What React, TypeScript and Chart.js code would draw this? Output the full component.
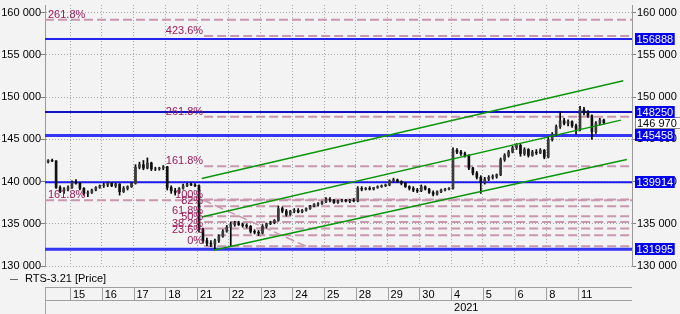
import { useEffect, useRef } from 'react';
import { Chart, registerables } from 'chart.js';

Chart.register(...registerables);

// ---------------- data ----------------
const dayLabels = ['15', '16', '17', '18', '21', '22', '23', '24', '25', '28', '29', '30', '4', '5', '6', '8', '11'];
const dayStartBar = [6, 14, 22, 30, 38, 46, 54, 62, 70, 78, 86, 94, 102, 110, 118, 126, 134];
const yearLabel = '2021';
const yearDayIndex = 12;

const opens = [
  142300, 142500, 142450, 139300, 138900, 139100,
  139300, 139900, 139800, 139200, 138600, 138700, 139000, 139300,
  139500, 139600, 139800, 139500, 139700, 138800, 139200, 139400,
  139800, 141700, 142000, 141600, 142200, 141500, 141500, 141600,
  141750, 139300, 138900, 138700, 139200, 139500, 139700, 139600,
  139500, 134300, 133000, 132700, 132600, 133000, 133500, 134100,
  134600, 134900, 135100, 134900, 134800, 134700, 134100, 134000,
  133900, 134700, 135000, 135100, 135400, 136800, 136500, 136100,
  136500, 136600, 136400, 136600, 136800, 137100, 137300, 137400,
  137600, 137900, 137800, 137500, 137700, 137800, 137700, 137800,
  137700, 139200, 139100, 139200, 139100, 139300, 139400, 139500,
  139600, 140100, 140200, 140000, 139800, 139400, 139200, 139000,
  138900, 139400, 139100, 138700, 138500, 138800, 139000, 139100,
  139200, 143700, 143500, 143300, 143100, 141600, 141000, 140500,
  139900, 140300, 140500, 140600, 140800, 142600, 143100, 143500,
  144000, 144300, 143300, 143800, 143100, 143500, 143400, 143700,
  142900, 145000, 145600, 146500, 147200, 146900, 147100, 146600,
  146200, 148500, 148200, 147800, 145900, 146900, 147300,
];
const highs = [
  142600, 142650, 142500, 139500, 139300, 139500,
  140100, 140250, 139900, 139300, 138900, 139100, 139400, 139600,
  139800, 139950, 139900, 139800, 139750, 139400, 139500, 139900,
  142000, 142300, 142500, 142800, 142300, 141700, 141700, 141900,
  141800, 139500, 139200, 139300, 139700, 139800, 139850, 139750,
  139600, 134500, 133300, 133000, 133200, 133700, 134300, 134800,
  135200, 135300, 135300, 135100, 135000, 134800, 134300, 134200,
  134900, 135100, 135300, 135500, 137100, 137000, 136700, 136600,
  136800, 136800, 136700, 136900, 137200, 137400, 137500, 137700,
  138100, 138100, 137900, 137800, 137900, 137900, 137900, 138000,
  139400, 139400, 139300, 139400, 139300, 139500, 139600, 139700,
  140200, 140400, 140300, 140100, 139900, 139500, 139400, 139200,
  139600, 139500, 139200, 138900, 138900, 139100, 139200, 139300,
  144000, 143900, 143700, 143500, 143200, 141700, 141200, 140700,
  140500, 140700, 140800, 140900, 142800, 143300, 143700, 144200,
  144500, 144400, 144000, 143900, 143700, 143800, 143900, 143800,
  145300, 145800, 146700, 148250, 147500, 147300, 147200, 146800,
  148900, 148800, 148400, 147900, 147100, 147500, 147400,
];
const lows = [
  142200, 142350, 139200, 138700, 138600, 138900,
  139200, 139700, 139000, 138400, 138200, 138600, 138900, 139200,
  139300, 139400, 139400, 139300, 138400, 138700, 139000, 139300,
  139700, 141500, 141400, 141500, 141300, 141300, 141350, 141400,
  139000, 138600, 138400, 138600, 139100, 139400, 139500, 139400,
  134000, 132700, 132400, 132300, 132000, 132800, 133400, 134000,
  132300, 134700, 134800, 134600, 134500, 133900, 133800, 133600,
  133800, 134500, 134900, 135000, 135300, 136300, 135900, 136000,
  136300, 136300, 136300, 136500, 136700, 137000, 137100, 137300,
  137500, 137600, 137400, 137400, 137600, 137600, 137500, 137600,
  137600, 138900, 139000, 139000, 139000, 139200, 139300, 139400,
  139500, 139900, 139900, 139600, 139300, 139000, 138800, 138700,
  138800, 139000, 138600, 138300, 138400, 138700, 138900, 139000,
  139100, 143300, 143100, 142900, 141400, 140800, 140300, 138600,
  139700, 140100, 140300, 140400, 140700, 142400, 142900, 143400,
  143800, 143000, 143100, 142900, 143000, 143200, 143300, 142700,
  142800, 144800, 145400, 146300, 146700, 146600, 146400, 145600,
  146000, 147900, 147600, 145000, 145700, 146700, 146800,
];
const closes = [
  142500, 142450, 139300, 138900, 139100, 139300,
  139900, 139800, 139200, 138600, 138700, 139000, 139300, 139500,
  139600, 139800, 139500, 139700, 138800, 139200, 139400, 139800,
  141700, 142000, 141600, 142200, 141500, 141500, 141600, 141750,
  139300, 138900, 138700, 139200, 139500, 139700, 139600, 139500,
  134300, 133000, 132700, 132600, 133000, 133500, 134100, 134600,
  134900, 135100, 134900, 134800, 134700, 134100, 134000, 133900,
  134700, 135000, 135100, 135400, 136800, 136500, 136100, 136500,
  136600, 136400, 136600, 136800, 137100, 137300, 137400, 137600,
  137900, 137800, 137500, 137700, 137800, 137700, 137800, 137700,
  139200, 139100, 139200, 139100, 139300, 139400, 139500, 139600,
  140100, 140200, 140000, 139800, 139400, 139200, 139000, 138900,
  139400, 139100, 138700, 138500, 138800, 139000, 139100, 139200,
  143700, 143500, 143300, 143100, 141600, 141000, 140500, 139900,
  140300, 140500, 140600, 140800, 142600, 143100, 143500, 144000,
  144300, 143300, 143800, 143100, 143500, 143400, 143700, 142900,
  145000, 145600, 146500, 147200, 146900, 147100, 146600, 146200,
  148500, 148200, 147800, 145900, 146900, 147300, 146970,
];
const lastPrice = 146970;
const lastPriceLabel = '146 970';
const seriesName = 'RTS-3.21 [Price]';

const xMin = -0.8;
const xMax = 147.1;
const yMin = 130000;
const yMax = 160913;
const yTicks = [130000, 135000, 140000, 145000, 150000, 155000, 160000];
const yTickLabels = ['130 000', '135 000', '140 000', '145 000', '150 000', '155 000', '160 000'];

const levelValues = [156888, 148250, 145458, 139914, 131995];
const levelLabels = ['156888', '148250', '145458', '139914', '131995'];

const fibALevels = [159170, 137790];
const fibALabels = ['261.8%', '161.8%'];
const fibBStart = 39.3;
const fibBLevels = [157237, 147667, 141822, 137873, 137078, 135893, 135217, 134434, 133640, 132335];
const fibBLabels = ['423.6%', '261.8%', '161.8%', '100%', '82%', '61.8%', '50%', '38.2%', '23.6%', '0%'];
const fibTrendX = [39.0, 65.0];
const fibTrendY = [137820, 132330];

const channelUpperX = [38.7, 144.9];
const channelUpperY = [140363, 151937];
const channelMidX = [38.7, 144.3];
const channelMidY = [135810, 147277];
const channelLowX = [41.6, 145.8];
const channelLowY = [131861, 142616];

// ---------------- styles ----------------
const FONT = "'Liberation Sans', Arial, sans-serif";
const BG = '#f3f3f3';
const GRID = '#a6a6a6';
const AXIS = '#9a9a9a';
const PINK = '#c898ae';
const FIB_TEXT = '#9b1b5a';
const BLUE = '#1c1cf4';
const GREEN = '#0a960a';
const levelWidths = [2, 2, 3, 2, 3];
const levelColors = ['#2424f0', '#1010c8', '#3535f5', '#1c1cf0', '#3535f5'];

const seg = (xs: number[], ys: number[]) => xs.map((x, i) => ({ x, y: ys[i] }));

const bgPlugin = {
  id: 'bgFill',
  beforeDraw(chart: any) {
    const { ctx, width, height } = chart;
    ctx.save();
    ctx.fillStyle = BG;
    ctx.fillRect(0, 0, width, height);
    ctx.restore();
  },
};

const overlayPlugin = {
  id: 'overlay',
  afterDatasetsDraw(chart: any) {
    const { ctx, scales, chartArea } = chart;
    const xs = scales.x;
    const ys = scales.y;
    ctx.save();
    ctx.font = `11px ${FONT}`;
    ctx.fillStyle = FIB_TEXT;
    ctx.textBaseline = 'alphabetic';
    ctx.textAlign = 'left';
    fibALevels.forEach((v, i) => {
      ctx.fillText(fibALabels[i], chartArea.left + 3, ys.getPixelForValue(v) - 2);
    });
    ctx.textAlign = 'right';
    const xr = xs.getPixelForValue(fibBStart) - 1;
    fibBLevels.forEach((v, i) => {
      ctx.fillText(fibBLabels[i], xr, ys.getPixelForValue(v) - 2);
    });
    ctx.restore();
  },
  afterDraw(chart: any) {
    const { ctx, scales, chartArea } = chart;
    const xs = scales.x;
    const ys = scales.y;
    ctx.save();
    ctx.font = `11px ${FONT}`;
    ctx.textBaseline = 'middle';
    ctx.textAlign = 'left';
    const bx = chartArea.right + 3;
    // current price box
    {
      const y = Math.round(ys.getPixelForValue(lastPrice));
      ctx.fillStyle = '#ffffff';
      ctx.fillRect(bx, y - 6, 50, 12);
      ctx.strokeStyle = '#8a8a8a';
      ctx.lineWidth = 1;
      ctx.strokeRect(bx + 0.5, y - 5.5, 50, 11);
      ctx.fillStyle = '#000';
      ctx.fillText(lastPriceLabel, bx + 2, y + 0.5);
    }
    levelValues.forEach((v, i) => {
      const y = Math.round(ys.getPixelForValue(v));
      const w = ctx.measureText(levelLabels[i]).width + 3;
      ctx.fillStyle = '#0000f2';
      ctx.fillRect(bx, y - 6, w, 12);
      ctx.fillStyle = '#ffffff';
      ctx.fillText(levelLabels[i], bx + 1.5, y + 0.5);
    });

    // legend row
    const legendY = chartArea.bottom + 13;
    ctx.strokeStyle = '#6a6a6a';
    ctx.lineWidth = 1;
    ctx.beginPath();
    ctx.moveTo(10, legendY + 0.5);
    ctx.lineTo(18, legendY + 0.5);
    ctx.stroke();
    ctx.fillStyle = '#000';
    ctx.fillText(seriesName, 25, legendY);

    // date rows
    const r1 = chartArea.bottom + 21.5;
    const r2 = chartArea.bottom + 34.5;
    ctx.strokeStyle = '#a0a0a0';
    ctx.beginPath();
    ctx.moveTo(chartArea.left, r1);
    ctx.lineTo(chartArea.right, r1);
    ctx.moveTo(chartArea.left, r2);
    ctx.lineTo(chartArea.right, r2);
    ctx.moveTo(chartArea.left + 0.5, r1);
    ctx.lineTo(chartArea.left + 0.5, chart.height);
    dayStartBar.forEach((b) => {
      const x = Math.round(xs.getPixelForValue(b - 0.5)) + 0.5;
      ctx.moveTo(x, r1);
      ctx.lineTo(x, r2);
    });
    ctx.stroke();
    ctx.restore();
  },
};

export default function App() {
  const ref = useRef<HTMLCanvasElement | null>(null);

  useEffect(() => {
    if (!ref.current) return;
    const n = closes.length;
    const idx = Array.from({ length: n }, (_, i) => i);
    const tickFont = { family: FONT, size: 11 };

    const lineDs = (data: any[], color: string, width: number, order: number, dash: number[] = []) => ({
      type: 'line' as const,
      data,
      borderColor: color,
      borderWidth: width,
      borderDash: dash,
      pointRadius: 0,
      fill: false,
      tension: 0,
      order,
    });

    const datasets: any[] = [
      {
        type: 'bar',
        label: seriesName,
        data: idx.map((i) => ({ x: i, y: [Math.min(opens[i], closes[i]), Math.max(opens[i], closes[i])] })),
        backgroundColor: idx.map((i) => (closes[i] >= opens[i] ? '#3a3a3a' : '#111111')),
        borderWidth: 0,
        barThickness: 2,
        grouped: false,
        order: 1,
      },
      {
        type: 'bar',
        label: 'wick',
        data: idx.map((i) => ({ x: i, y: [lows[i], highs[i]] })),
        backgroundColor: '#000000',
        borderWidth: 0,
        barThickness: 1,
        grouped: false,
        order: 2,
      },
      lineDs(seg(channelUpperX, channelUpperY), GREEN, 1.5, 0),
      lineDs(seg(channelMidX, channelMidY), GREEN, 1.5, 0),
      lineDs(seg(channelLowX, channelLowY), GREEN, 1.5, 0),
      ...levelValues.map((v, i) => lineDs(seg([xMin, xMax], [v, v]), levelColors[i] || BLUE, levelWidths[i], 3)),
      ...fibALevels.map((v) => lineDs(seg([xMin, xMax], [v, v]), PINK, 2, 4, [9, 4])),
      ...fibBLevels.map((v) => lineDs(seg([fibBStart, xMax], [v, v]), PINK, 2, 4, [9, 4])),
      lineDs(seg(fibTrendX, fibTrendY), PINK, 1.5, 4, [9, 4]),
    ];

    const chart = new Chart(ref.current, {
      type: 'bar',
      data: { datasets },
      options: {
        animation: false,
        responsive: false,
        maintainAspectRatio: false,
        layout: { padding: { top: 5, left: 0, right: 0, bottom: 0 } },
        plugins: { legend: { display: false }, tooltip: { enabled: false } },
        scales: {
          x: {
            type: 'linear',
            min: xMin,
            max: xMax,
            offset: false,
            afterBuildTicks: (s: any) => {
              s.ticks = dayStartBar.map((b) => ({ value: b - 0.5 }));
            },
            afterFit: (s: any) => {
              s.height = 48;
              s.paddingLeft = 0;
              s.paddingRight = 0;
            },
            ticks: {
              autoSkip: false,
              maxRotation: 0,
              minRotation: 0,
              align: 'start',
              labelOffset: 3,
              padding: 22,
              color: '#000',
              font: tickFont,
              callback: (_v: any, i: number) => (i === yearDayIndex ? [dayLabels[i], yearLabel] : dayLabels[i]),
            },
            grid: { color: GRID, drawTicks: false, offset: false, lineWidth: 1 },
            border: { display: false, dash: [1, 2] },
          } as any,
          y: {
            type: 'linear',
            position: 'left',
            min: yMin,
            max: yMax,
            afterBuildTicks: (s: any) => {
              s.ticks = yTicks.map((v) => ({ value: v }));
            },
            afterFit: (s: any) => {
              s.width = 45;
              s.paddingTop = 0;
              s.paddingBottom = 0;
            },
            ticks: { padding: 0, color: '#000', font: tickFont, callback: (_v: any, i: number) => yTickLabels[i] },
            grid: { color: GRID, tickColor: '#808080', tickLength: 4, tickBorderDash: [], drawTicks: true },
            border: { display: true, color: AXIS, dash: [1, 2] },
          } as any,
          y2: {
            type: 'linear',
            position: 'right',
            min: yMin,
            max: yMax,
            afterBuildTicks: (s: any) => {
              s.ticks = yTicks.map((v) => ({ value: v }));
            },
            afterFit: (s: any) => {
              s.width = 48;
              s.paddingTop = 0;
              s.paddingBottom = 0;
            },
            ticks: { padding: 1, color: '#000', font: tickFont, callback: (_v: any, i: number) => yTickLabels[i] },
            grid: { drawOnChartArea: false, tickColor: '#808080', tickLength: 4, drawTicks: true },
            border: { display: true, color: AXIS },
          } as any,
        },
      },
      plugins: [bgPlugin, overlayPlugin],
    });
    return () => chart.destroy();
  }, []);

  return (
    <div style={{ position: 'fixed', left: 0, top: 0, width: 680, height: 314 }}>
      <canvas ref={ref} width={680} height={314} style={{ display: 'block' }} />
    </div>
  );
}
